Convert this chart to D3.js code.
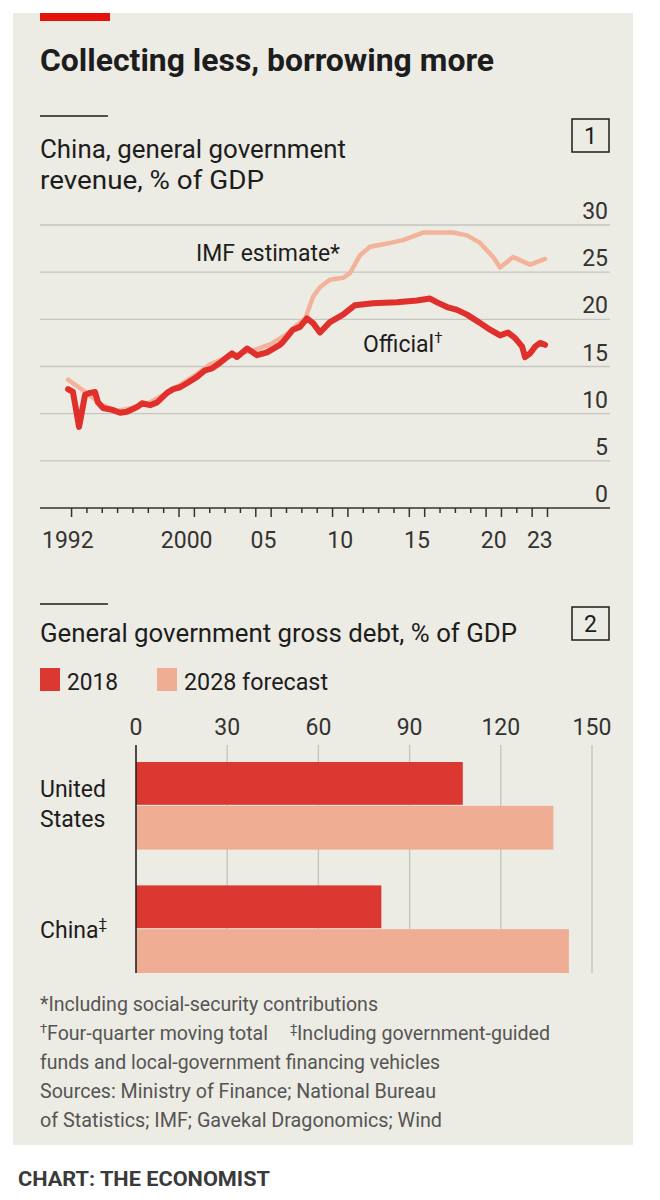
<!DOCTYPE html>
<html><head><meta charset="utf-8">
<script src="https://cdn.jsdelivr.net/npm/d3@7"></script>
<style>
html,body{margin:0;padding:0;background:#fff;}
svg{display:block;font-family:Roboto,"Noto Sans",sans-serif;}
</style></head>
<body>
<script>
// ---------- DATA ----------
const officialT = [1992.77,1993.09,1993.49,1993.88,1994.20,1994.53,1994.72,1995.05,1995.64,1996.16,1996.61,1997.26,1997.59,1998.11,1998.57,1999.22,1999.62,2000.07,2000.59,2001.17,2001.70,2002.15,2002.67,2003.13,2003.45,2003.78,2004.43,2005.08,2005.73,2006.57,2006.77,2007.42,2007.88,2008.33,2008.73,2009.18,2009.83,2010.68,2011.46,2012.63,2014.20,2015.50,2016.35,2016.81,2017.46,2018.11,2018.76,2019.61,2020.26,2020.91,2021.43,2021.89,2022.35,2022.54,2022.87,2023.19,2023.52,2023.84];
const officialV = [12.6,12.3,8.6,12.0,12.2,12.3,11.2,10.6,10.4,10.1,10.2,10.7,11.1,10.9,11.2,12.2,12.6,12.8,13.3,13.9,14.6,14.8,15.4,16.0,16.4,16.0,16.9,16.2,16.5,17.3,17.6,18.9,19.2,20.1,19.6,18.6,19.7,20.5,21.5,21.7,21.8,22.0,22.2,21.8,21.3,21.0,20.5,19.6,18.9,18.3,18.6,18.0,17.1,16.0,16.4,17.1,17.5,17.3];
const imfT = [1992.77,1993.9,1995.0,1996.0,1997.0,1998.0,1999.0,2000.0,2001.0,2002.0,2003.0,2004.0,2005.0,2006.0,2007.0,2007.6,2008.22,2008.73,2009.18,2009.83,2010.68,2011.14,2011.79,2012.44,2013.74,2014.59,2015.89,2016.81,2017.85,2018.76,2019.61,2020.46,2020.91,2021.76,2022.87,2023.84];
const imfV = [13.6,12.3,10.9,10.3,10.6,11.1,12.0,13.0,14.0,15.2,15.9,16.4,16.8,17.4,18.4,19.3,20.1,22.4,23.4,24.2,24.4,24.9,26.8,27.7,28.1,28.4,29.2,29.2,29.2,28.9,28.1,26.6,25.5,26.6,25.8,26.4];
const yTicks = [0,5,10,15,20,25,30];
const labelledYears = [1992,2000,2005,2010,2015,2020,2023];
const yearLabels = ["1992","2000","05","10","15","20","23"];

const countries = ["United States","China"];
const countryLabels = [["United","States"],["China"]];
const seriesNames = ["2018","2028 forecast"];
const debt2018 = [107.5,80.7];
const debt2028 = [137.3,142.4];
const debtTicks = [0,30,60,90,120,150];

const footnotes = [
  "*Including social-security contributions",
  "Four-quarter moving total",
  "Including government-guided",
  "funds and local-government financing vehicles",
  "Sources: Ministry of Finance; National Bureau",
  "of Statistics; IMF; Gavekal Dragonomics; Wind"
];

// ---------- STYLE ----------
const BG = "#ecebe4", RED = "#e0302c", SALMON = "#f3b29a", BAR_RED = "#db3832", BAR_SAL = "#efad93";
const TXT = "#1d1d1d", GRID = "#c6c6c0";

const W = 660, H = 1200;
const svg = d3.select("body").append("svg").attr("width", W).attr("height", H);
svg.append("rect").attr("x",13).attr("y",13).attr("width",620).attr("height",1132).attr("fill",BG);
svg.append("rect").attr("x",40).attr("y",13).attr("width",70).attr("height",8).attr("fill","#e3120b");

function fit(sel, w){ sel.attr("textLength", w).attr("lengthAdjust","spacingAndGlyphs"); return sel; }

fit(svg.append("text").attr("x",40).attr("y",71).attr("font-size",32).attr("font-weight",700)
  .attr("fill",TXT).text("Collecting less, borrowing more"), 454);

// ----- Panel 1 -----
svg.append("line").attr("x1",40).attr("x2",108).attr("y1",116).attr("y2",116).attr("stroke",TXT).attr("stroke-width",1.6);
fit(svg.append("text").attr("x",40).attr("y",158).attr("font-size",25).attr("fill",TXT).text("China, general government"),306);
fit(svg.append("text").attr("x",40).attr("y",189).attr("font-size",25).attr("fill",TXT).text("revenue, % of GDP"),224);
function box(y, n){
  svg.append("rect").attr("x",572).attr("y",y).attr("width",37).attr("height",33).attr("fill","none").attr("stroke",TXT).attr("stroke-width",1.5);
  svg.append("text").attr("x",590.5).attr("y",y+25).attr("text-anchor","middle").attr("font-size",23).attr("fill",TXT).text(n);
}
box(119,"1");

const x = d3.scaleLinear().domain([1992,2024]).range([56.2,547.5]);
const y = d3.scaleLinear().domain([0,30]).range([508,225]);

const g1 = svg.append("g");
g1.selectAll("line.grid").data(yTicks.filter(d=>d>0)).join("line")
  .attr("x1",40).attr("x2",610).attr("y1",d=>y(d)).attr("y2",d=>y(d))
  .attr("stroke",GRID).attr("stroke-width",1.4);
g1.selectAll("text.yl").data(yTicks).join("text")
  .attr("x",608).attr("y",d=>y(d)-6).attr("text-anchor","end").attr("font-size",23).attr("fill","#333")
  .text(d=>d);

// x axis
g1.append("line").attr("x1",40).attr("x2",610).attr("y1",y(0)).attr("y2",y(0)).attr("stroke","#333").attr("stroke-width",1.6);
const bounds = d3.range(1993,2025);
const longB = new Set();
labelledYears.forEach(yr=>{ if(yr>1992) longB.add(yr); longB.add(yr+1); });
g1.selectAll("line.tk").data(bounds).join("line")
  .attr("x1",d=>x(d)).attr("x2",d=>x(d)).attr("y1",y(0)).attr("y2",d=>y(0)+(longB.has(d)?9:5))
  .attr("stroke","#333").attr("stroke-width",1.5);
g1.selectAll("text.xl").data(labelledYears).join("text")
  .attr("x",(d,i)=> i===0 ? 42 : x(d+0.5))
  .attr("y",548).attr("text-anchor",(d,i)=> i===0?"start":"middle")
  .attr("font-size",23).attr("fill","#333").text((d,i)=>yearLabels[i]);

const line = d3.line().x(d=>x(d[0])).y(d=>y(d[1])).curve(d3.curveLinear);
const imf = imfT.map((t,i)=>[t,imfV[i]]);
const off = officialT.map((t,i)=>[t,officialV[i]]);
g1.append("path").datum(imf).attr("d",line).attr("fill","none").attr("stroke",SALMON).attr("stroke-width",4.5).attr("stroke-linejoin","round").attr("stroke-linecap","round");
g1.append("path").datum(off).attr("d",line).attr("fill","none").attr("stroke",RED).attr("stroke-width",6).attr("stroke-linejoin","round").attr("stroke-linecap","round");

fit(g1.append("text").attr("x",340).attr("y",261).attr("text-anchor","end").attr("font-size",23).attr("fill",TXT).text("IMF estimate*"),144);
const ot = g1.append("text").attr("x",363).attr("y",352).attr("font-size",23).attr("fill",TXT);
ot.append("tspan").text("Official");
ot.append("tspan").attr("font-size",15).attr("dy",-9).text("†");

// ----- Panel 2 -----
svg.append("line").attr("x1",40).attr("x2",108).attr("y1",604).attr("y2",604).attr("stroke",TXT).attr("stroke-width",1.6);
fit(svg.append("text").attr("x",40).attr("y",642).attr("font-size",25).attr("fill",TXT).text("General government gross debt, % of GDP"),477);
box(607,"2");

// legend
const legX = [40,157];
const legC = [BAR_RED, BAR_SAL];
const legW = [51,144];
seriesNames.forEach((s,i)=>{
  svg.append("rect").attr("x",legX[i]).attr("y",668).attr("width",20).attr("height",23).attr("fill",legC[i]);
  fit(svg.append("text").attr("x",legX[i]+27).attr("y",690).attr("font-size",23).attr("fill",TXT).text(s),legW[i]);
});

const xb = d3.scaleLinear().domain([0,150]).range([136,592]);
const yb = d3.scaleBand().domain(countries).range([762,973]).paddingInner(0.29);
const ys = d3.scaleBand().domain(seriesNames).range([0,yb.bandwidth()]);

const g2 = svg.append("g");
g2.selectAll("line.vg").data(debtTicks.filter(d=>d>0)).join("line")
  .attr("x1",d=>xb(d)).attr("x2",d=>xb(d)).attr("y1",745).attr("y2",973)
  .attr("stroke",GRID).attr("stroke-width",1.4);
g2.selectAll("text.bl").data(debtTicks).join("text")
  .attr("x",d=>xb(d)).attr("y",735).attr("text-anchor","middle").attr("font-size",23).attr("fill","#333").text(d=>d);

const rows = countries.map((c,i)=>({c, v:[debt2018[i],debt2028[i]]}));
rows.forEach(r=>{
  r.v.forEach((v,j)=>{
    g2.append("rect").attr("x",xb(0)).attr("y",yb(r.c)+ys(seriesNames[j]))
      .attr("width",xb(v)-xb(0)).attr("height",ys.bandwidth()-(j===0?1:0))
      .attr("fill",legC[j]);
  });
});
g2.append("line").attr("x1",xb(0)).attr("x2",xb(0)).attr("y1",745).attr("y2",973).attr("stroke","#222").attr("stroke-width",1.6);

// category labels
const usT = g2.append("text").attr("x",40).attr("font-size",23).attr("fill",TXT);
usT.append("tspan").attr("x",40).attr("y",797).text(countryLabels[0][0]);
usT.append("tspan").attr("x",40).attr("y",827).text(countryLabels[0][1]);
const cnT = g2.append("text").attr("x",40).attr("y",938).attr("font-size",23).attr("fill",TXT);
cnT.append("tspan").text(countryLabels[1][0]);
cnT.append("tspan").attr("font-size",15).attr("dy",-9).text("‡");

// footnotes
const FN = "#555", fs = 19.5;
function sup(xp, yp, ch){ svg.append("text").attr("x",xp).attr("y",yp-7).attr("font-size",13).attr("fill",FN).text(ch); }
fit(svg.append("text").attr("x",40).attr("y",1011).attr("font-size",fs).attr("fill",FN).text(footnotes[0]),338);
sup(40,1040,"†");
fit(svg.append("text").attr("x",47).attr("y",1040).attr("font-size",fs).attr("fill",FN).text(footnotes[1]),221);
sup(290,1040,"‡");
fit(svg.append("text").attr("x",297).attr("y",1040).attr("font-size",fs).attr("fill",FN).text(footnotes[2]),253);
fit(svg.append("text").attr("x",40).attr("y",1069).attr("font-size",fs).attr("fill",FN).text(footnotes[3]),400);
fit(svg.append("text").attr("x",40).attr("y",1098).attr("font-size",fs).attr("fill",FN).text(footnotes[4]),396);
fit(svg.append("text").attr("x",40).attr("y",1127).attr("font-size",fs).attr("fill",FN).text(footnotes[5]),402);

fit(svg.append("text").attr("x",18).attr("y",1186).attr("font-size",20).attr("font-weight",700).attr("fill","#3a3a3a").text("CHART: THE ECONOMIST"),252);
</script>
</body></html>
